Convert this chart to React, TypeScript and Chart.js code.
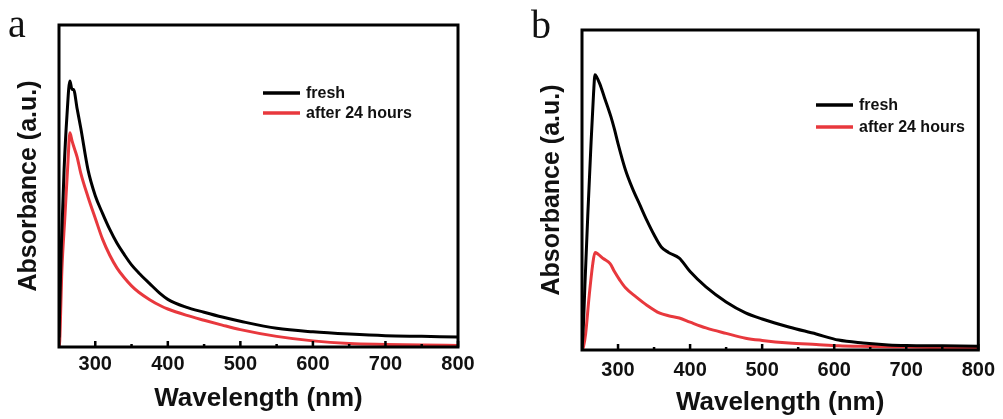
import React, { useEffect, useRef } from "react";
import { Chart, registerables } from "chart.js";

Chart.register(...registerables);

// ---- data (wavelength in nm, absorbance in a.u.) ----
const majorTicks = [300, 400, 500, 600, 700, 800];
const minorTicks = [350, 450, 550, 650, 750];
const seriesLabels = ["fresh", "after 24 hours"];
const seriesColors = ["#000000", "#e8383d"];

// Panel a
const wlFreshA = [250, 253, 257, 261, 265, 268, 270, 275, 280, 290, 300, 310, 320, 330, 340, 350, 360, 375, 390, 400, 425, 450, 475, 500, 550, 600, 650, 700, 750, 800];
const absFreshA = [0.03, 0.3, 0.55, 0.72, 0.826, 0.8, 0.8, 0.74, 0.68, 0.55, 0.47, 0.415, 0.365, 0.322, 0.287, 0.255, 0.23, 0.197, 0.165, 0.148, 0.124, 0.108, 0.093, 0.08, 0.058, 0.047, 0.04, 0.035, 0.033, 0.031];
const wlAgedA = [250, 251, 254, 258, 262, 265, 268, 270, 275, 280, 290, 300, 310, 320, 330, 340, 350, 360, 375, 390, 400, 425, 450, 475, 500, 550, 600, 650, 700, 750, 800];
const absAgedA = [0.0, 0.02, 0.24, 0.4, 0.56, 0.665, 0.64, 0.625, 0.59, 0.54, 0.466, 0.4, 0.335, 0.285, 0.245, 0.215, 0.19, 0.17, 0.147, 0.128, 0.118, 0.099, 0.083, 0.068, 0.054, 0.033, 0.019, 0.011, 0.008, 0.006, 0.005];

// Panel b
const wlFreshB = [250, 252, 254, 258, 262, 266, 268, 270, 275, 281, 290, 295, 300, 310, 320, 330, 340, 350, 360, 370, 385, 400, 422, 450, 477, 500, 537, 575, 606, 640, 675, 700, 750, 800];
const absFreshB = [0.0, 0.08, 0.2, 0.42, 0.62, 0.8, 0.86, 0.855, 0.83, 0.79, 0.73, 0.69, 0.645, 0.565, 0.505, 0.455, 0.405, 0.36, 0.322, 0.305, 0.287, 0.245, 0.197, 0.15, 0.116, 0.097, 0.072, 0.05, 0.031, 0.022, 0.016, 0.014, 0.013, 0.012];
const wlAgedB = [250, 252, 255, 260, 265, 268, 272, 280, 289, 295, 302, 310, 325, 340, 358, 370, 385, 400, 422, 450, 477, 500, 537, 575, 606, 650, 700, 750, 800];
const absAgedB = [0.0, 0.01, 0.05, 0.17, 0.27, 0.305, 0.3, 0.285, 0.27, 0.245, 0.22, 0.195, 0.166, 0.14, 0.115, 0.107, 0.1, 0.087, 0.069, 0.052, 0.037, 0.03, 0.022, 0.017, 0.013, 0.011, 0.009, 0.007, 0.006];

const FONT = "'Liberation Sans', Arial, Helvetica, sans-serif";

const toPoints = (xs: number[], ys: number[]) => xs.map((x, i) => ({ x, y: ys[i] }));

const framePlugin = {
  id: "frameTicks",
  afterDatasetsDraw(chart: any) {
    const { ctx, chartArea } = chart;
    const { left, right, top, bottom } = chartArea;
    const xs = chart.scales.x;
    ctx.save();
    ctx.strokeStyle = "#000";
    ctx.lineWidth = 3;
    ctx.strokeRect(left, top, right - left, bottom - top);
    ctx.lineWidth = 2.5;
    ctx.beginPath();
    for (const t of majorTicks) {
      const px = xs.getPixelForValue(t);
      ctx.moveTo(px, bottom);
      ctx.lineTo(px, bottom - 6);
    }
    for (const t of minorTicks) {
      const px = xs.getPixelForValue(t);
      ctx.moveTo(px, bottom);
      ctx.lineTo(px, bottom - 3);
    }
    ctx.stroke();
    ctx.restore();
  },
};

const legendPlugin = {
  id: "boxLegend",
  afterDraw(chart: any, _args: any, opts: any) {
    const { ctx, chartArea } = chart;
    ctx.save();
    ctx.font = `bold 16px ${FONT}`;
    ctx.textBaseline = "middle";
    ctx.textAlign = "left";
    chart.data.datasets.forEach((ds: any, i: number) => {
      const x0 = chartArea.left + opts.dx;
      const y = chartArea.top + opts.dy + i * opts.gap;
      ctx.strokeStyle = ds.borderColor;
      ctx.lineWidth = 3.5;
      ctx.beginPath();
      ctx.moveTo(x0, y);
      ctx.lineTo(x0 + 37, y);
      ctx.stroke();
      ctx.fillStyle = "#111";
      ctx.fillText(ds.label, x0 + 43, y + 1);
    });
    ctx.restore();
  },
};

type PanelProps = {
  fresh: { x: number; y: number }[];
  aged: { x: number; y: number }[];
  padLeft: number;
  padRight: number;
  padTop: number;
  xHeight: number;
  tickPad: number;
  titlePad: number;
  legend: { dx: number; dy: number; gap: number };
  width: number;
  left: number;
};

function Panel(p: PanelProps) {
  const ref = useRef<HTMLCanvasElement | null>(null);
  useEffect(() => {
    if (!ref.current) return;
    const chart = new Chart(ref.current, {
      type: "line",
      data: {
        datasets: [
          {
            label: seriesLabels[0],
            data: p.fresh,
            borderColor: seriesColors[0],
            borderWidth: 3,
            pointRadius: 0,
            cubicInterpolationMode: "monotone",
            fill: false,
          },
          {
            label: seriesLabels[1],
            data: p.aged,
            borderColor: seriesColors[1],
            borderWidth: 3,
            pointRadius: 0,
            cubicInterpolationMode: "monotone",
            fill: false,
          },
        ],
      },
      options: {
        animation: false,
        responsive: false,
        maintainAspectRatio: false,
        layout: { padding: { left: p.padLeft, right: p.padRight, top: p.padTop, bottom: 0 } },
        plugins: {
          legend: { display: false },
          tooltip: { enabled: false },
          boxLegend: p.legend,
        } as any,
        scales: {
          x: {
            type: "linear",
            min: 250,
            max: 800,
            grid: { display: false, drawTicks: false },
            border: { display: false },
            afterBuildTicks: (s: any) => {
              s.ticks = majorTicks.map((v) => ({ value: v }));
            },
            afterFit: (s: any) => {
              s.height = p.xHeight;
            },
            ticks: {
              padding: p.tickPad,
              color: "#111",
              maxRotation: 0,
              autoSkip: false,
              font: { family: FONT, size: 20, weight: "bold" },
            },
            title: {
              display: true,
              text: "Wavelength (nm)",
              color: "#111",
              font: { family: FONT, size: 26, weight: "bold" },
              padding: { top: 0, bottom: p.titlePad },
            },
          },
          y: {
            type: "linear",
            min: 0,
            max: 1,
            grid: { display: false, drawTicks: false },
            border: { display: false },
            ticks: { display: false },
            afterFit: (s: any) => {
              s.width = 59;
            },
            title: {
              display: true,
              text: "Absorbance (a.u.)",
              color: "#111",
              font: { family: FONT, size: 25, weight: "bold" },
              padding: { top: 14, bottom: 0 },
            },
          },
        },
      },
      plugins: [framePlugin, legendPlugin],
    } as any);
    return () => chart.destroy();
  }, []);
  return (
    <canvas
      ref={ref}
      width={p.width}
      height={419}
      style={{ position: "absolute", left: p.left, top: 0, width: p.width, height: 419 }}
    />
  );
}

export default function App() {
  return (
    <div
      style={{
        position: "fixed",
        left: 0,
        top: 0,
        width: 1003,
        height: 419,
        background: "#fff",
        overflow: "hidden",
      }}
    >
      <Panel
        fresh={toPoints(wlFreshA, absFreshA)}
        aged={toPoints(wlAgedA, absAgedA)}
        padLeft={0}
        padRight={42}
        padTop={25}
        xHeight={72}
        tickPad={5}
        titlePad={5}
        legend={{ dx: 204, dy: 68, gap: 20 }}
        width={500}
        left={0}
      />
      <Panel
        fresh={toPoints(wlFreshB, absFreshB)}
        aged={toPoints(wlAgedB, absAgedB)}
        padLeft={23}
        padRight={22}
        padTop={30}
        xHeight={69}
        tickPad={8}
        titlePad={1}
        legend={{ dx: 234, dy: 75, gap: 22 }}
        width={503}
        left={500}
      />
      <div
        style={{
          position: "absolute",
          left: 8,
          top: 4,
          fontFamily: "'Liberation Serif', 'Times New Roman', serif",
          fontSize: 40,
          lineHeight: 1,
          color: "#111",
        }}
      >
        a
      </div>
      <div
        style={{
          position: "absolute",
          left: 531,
          top: 5,
          fontFamily: "'Liberation Serif', 'Times New Roman', serif",
          fontSize: 40,
          lineHeight: 1,
          color: "#111",
        }}
      >
        b
      </div>
    </div>
  );
}
